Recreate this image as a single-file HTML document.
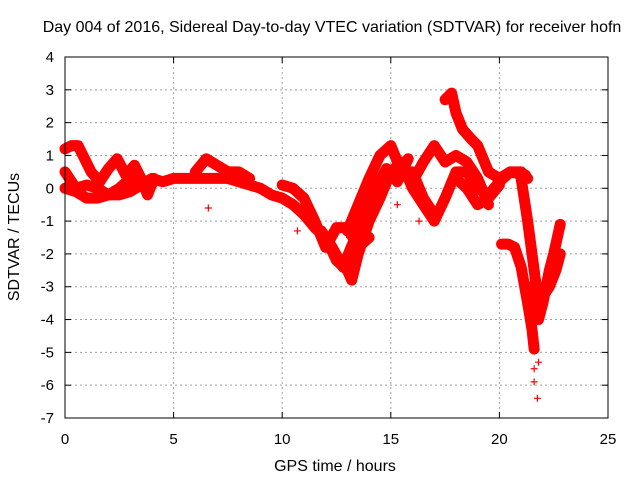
<!DOCTYPE html>
<html><head><meta charset="utf-8">
<style>
body{margin:0;background:#fff;}
svg{display:block;font-family:"Liberation Sans",sans-serif;}
</style></head>
<body>
<svg id="chart" width="640" height="480">
<text x="332" y="32" text-anchor="middle" font-size="16">Day 004 of 2016, Sidereal Day-to-day VTEC variation (SDTVAR) for receiver hofn</text>
<text x="335" y="471" text-anchor="middle" font-size="16">GPS time / hours</text>
<text transform="translate(19,237) rotate(-90)" text-anchor="middle" font-size="16">SDTVAR / TECUs</text>
<g id="grid"></g><g id="marks"></g>
<rect x="65" y="57" width="543" height="361" fill="none" stroke="#000" stroke-width="1"/>
</svg>
<script>
const xTicks=[0,5,10,15,20,25];
const yTicks=[4,3,2,1,0,-1,-2,-3,-4,-5,-6,-7];
const track1=[[0,0],[0.5,-0.1],[1,-0.3],[1.5,-0.3],[2,-0.2],[2.5,-0.2],[3,-0.1],[3.5,0.1],[4,0.3],[4.5,0.2],[5,0.3],[5.5,0.3],[6,0.3],[6.5,0.3],[7,0.3],[7.5,0.3],[8,0.2],[8.5,0.1],[9,0],[9.5,-0.2],[10,-0.3],[10.5,-0.5],[11,-0.8],[11.5,-1.2],[12,-1.5],[12.5,-2.2],[13,-2.5],[13.2,-2.8],[13.5,-2],[14,-1],[14.5,-0.3],[15,0.5],[15.5,0.8],[16,0],[16.5,-0.5],[17,-1],[17.5,-0.3],[18,0.5],[18.5,0.5],[19,0],[19.5,-0.2],[20,0.2],[20.5,0.5],[21,0.5],[21.3,0.3]];
const track2=[[0,1.2],[0.3,1.3],[0.6,1.3],[0.9,0.9],[1.2,0.5],[1.6,0.2],[2,0.6],[2.4,0.9],[2.8,0.4],[3.2,0.7],[3.5,0.3],[3.8,-0.2],[4.1,0.3]];
const track3=[[0,0.5],[0.5,0],[1,0.1],[1.5,0],[2,-0.2],[2.5,0],[3,0.3],[3.5,0.3]];
const track4=[[6,0.5],[6.5,0.9],[7,0.7],[7.5,0.5],[8,0.5],[8.5,0.3]];
const track5=[[10,0.1],[10.5,0],[11,-0.3],[11.5,-1],[12,-1.8],[12.5,-1.2],[13,-1.2],[13.5,-1.8],[14,-1.5]];
const track6=[[13,-1.3],[13.5,-0.5],[14,0.3],[14.5,1],[15,1.3],[15.5,0.5],[16,0.5],[16.5,-0.3],[17,-0.8]];
const track7=[[16,0.2],[16.5,0.8],[17,1.3],[17.5,0.8],[18,1],[18.5,0.8],[19,0.3],[19.5,-0.5]];
const track8=[[17.5,2.7],[17.8,2.9],[18,2.3],[18.3,1.8],[18.7,1.5],[19,1.3],[19.5,0.5],[20,0.3],[20.5,0.5],[21.2,0.4]];
const track9=[[18,0.3],[18.5,0],[19,-0.5],[19.5,-0.3],[20,0.1]];
const track10=[[21,0.3],[21.3,-1],[21.5,-2],[21.7,-3],[21.8,-3.7]];
const track11=[[20.1,-1.7],[20.4,-1.7],[20.7,-1.8],[21,-2.4],[21.3,-3.5],[21.5,-4.3],[21.6,-4.9]];
const track12=[[21.5,-3],[21.8,-4],[22,-3.5],[22.3,-2.5],[22.5,-2],[22.8,-1.1]];
const track13=[[22,-3.3],[22.3,-3],[22.6,-2.5],[22.8,-2.0]];
const track14=[[11.8,-1.3],[12.3,-1.8],[12.8,-2.4],[13.3,-1.6],[13.8,-0.8],[14.3,0],[14.8,0.6],[15.3,0.2],[15.8,0.9]];
const outliers=[[21.6,-5.5],[21.6,-5.9],[21.75,-6.4],[21.8,-5.3],[6.6,-0.6],[16.8,-0.8],[13.1,-1.5],[16.3,-1],[15.3,-0.5],[10.7,-1.3]];
const tracks=[track1,track2,track3,track4,track5,track6,track7,track8,track9,track10,track11,track12,track13,track14];

const X0=65,X1=608,Y0=418,Y1=57;
const px=x=>X0+(x-0)/(25-0)*(X1-X0);
const py=y=>Y0-(y+7)/(4+7)*(Y0-Y1);
const NS="http://www.w3.org/2000/svg";
const grid=document.getElementById('grid'),marks=document.getElementById('marks');
function mk(t,a,p){const e=document.createElementNS(NS,t);for(const k in a)e.setAttribute(k,a[k]);p.appendChild(e);return e;}
xTicks.forEach(v=>{const x=px(v);
 if(v>0&&v<25){const l=mk('line',{x1:x,x2:x,y1:Y1,y2:Y0,stroke:'#a0a0a0','stroke-dasharray':'2,3'},grid);
 
 }
 mk('line',{x1:x,x2:x,y1:Y0,y2:Y0-6,stroke:'#000'},grid);
 mk('line',{x1:x,x2:x,y1:Y1,y2:Y1+6,stroke:'#000'},grid);
 const t=mk('text',{x:x,y:444,'text-anchor':'middle','font-size':15},grid);t.textContent=v;
 
 });
yTicks.forEach(v=>{const y=py(v);
 if(v<4&&v>-7){const l=mk('line',{x1:X0,x2:X1,y1:y,y2:y,stroke:'#a0a0a0','stroke-dasharray':'2,3'},grid);
 
 }
 mk('line',{x1:X0,x2:X0+6,y1:y,y2:y,stroke:'#000'},grid);
 mk('line',{x1:X1,x2:X1-6,y1:y,y2:y,stroke:'#000'},grid);
 const t=mk('text',{x:54,y:y+5,'text-anchor':'end','font-size':15},grid);t.textContent=v;
 
 });
function plus(x,y){const s=3.5;
 const p=mk('path',{d:`M${x-s},${y}H${x+s}M${x},${y-s}V${y+s}`,stroke:'#f00','stroke-width':1.2},marks);
 
 }
tracks.forEach(tr=>{
 const pl=mk('polyline',{points:tr.map(p=>px(p[0])+','+py(p[1])).join(' '),fill:'none',stroke:'#f00','stroke-width':11,'stroke-linejoin':'round','stroke-linecap':'round'},marks);
 
 
 tr.forEach(p=>plus(px(p[0]),py(p[1])));});
outliers.forEach(p=>plus(px(p[0]),py(p[1])));
</script>
</body></html>
